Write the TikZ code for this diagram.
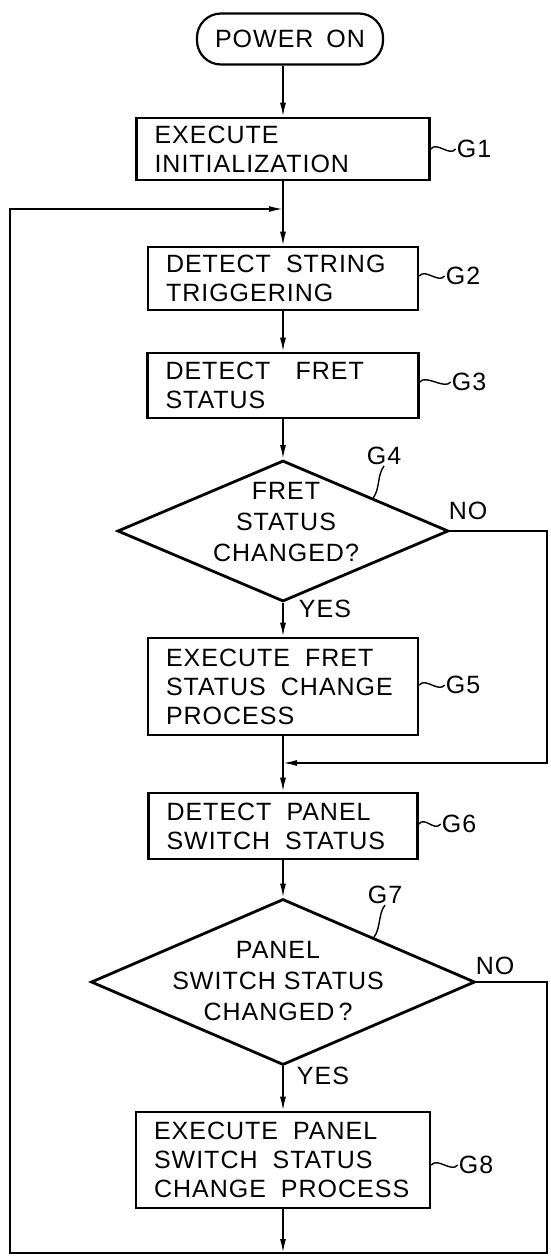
\documentclass[tikz,border=0pt]{standalone}
\usepackage{fontspec}
\setmainfont{Liberation Sans}[LetterSpace=4]
\usetikzlibrary{shapes.geometric,arrows.meta,calc}
\newcommand\bodyfont{\fontsize{25}{29}\selectfont}
\newcommand\diafont{\fontsize{25}{31}\selectfont}
\begin{document}
\begin{tikzpicture}[x=1pt,y=-1pt,
  box/.style={draw, line width=2.6pt, inner xsep=18pt, inner ysep=0pt, align=left, font=\bodyfont,
    execute at begin node={\spaceskip=15pt\relax}},
  term/.style={draw, rounded corners=24pt, line width=2.2pt, minimum width=186pt, minimum height=51pt, font=\bodyfont,
    execute at begin node={\spaceskip=13pt\relax}},
  dia/.style={draw, diamond, line width=2.8pt, inner sep=0pt},
  diatxt/.style={align=center, font=\diafont, inner sep=0pt},
  lab/.style={font=\bodyfont, inner sep=1pt},
  arr/.style={line width=1.7pt, -{Latex[length=14pt,width=6pt]}},
  lead/.style={line width=1.4pt}]
\useasboundingbox (0,0) rectangle (550,1256);

% nodes
\node[term] (pon) at (290,39) {POWER ON};
\node[box, minimum width=293pt, minimum height=62pt, text width=257pt] (g1) at (283,149) {EXECUTE\\INITIALIZATION};
\node[box, minimum width=270pt, minimum height=63pt, text width=234pt] (g2) at (283,278.5) {DETECT STRING\\TRIGGERING};
\node[box, minimum width=271pt, minimum height=65pt, text width=235pt] (g3) at (283,385.5) {DETECT\hspace{10pt} FRET\\STATUS};
\node[dia, minimum width=331pt, minimum height=141pt] (g4) at (283,531) {};
\node[diatxt] (g4t) at (286,522) {FRET\\STATUS\\CHANGED?};
\node[box, minimum width=270pt, minimum height=97pt, text width=234pt] (g5) at (283,686.5) {EXECUTE FRET\\STATUS CHANGE\\PROCESS};
\node[box, minimum width=269pt, minimum height=66pt, text width=233pt] (g6) at (283,826) {DETECT PANEL\\SWITCH STATUS};
\node[dia, minimum width=384pt, minimum height=166pt] (g7) at (283,982) {};
\node[diatxt] (g7t) at (278,981) {PANEL\\SWITCH STATUS\\CHANGED\kern4pt?};
\node[box, minimum width=294pt, minimum height=96pt, text width=258pt] (g8) at (283,1160) {EXECUTE PANEL\\SWITCH STATUS\\CHANGE PROCESS};

% reference labels
\node[lab] (l1) at (474,149) {G1};
\node[lab] (l2) at (463,276) {G2};
\node[lab] (l3) at (469,382) {G3};
\node[lab] (l4) at (384,456) {G4};
\node[lab] (l5) at (463,685) {G5};
\node[lab] (l6) at (459,824) {G6};
\node[lab] (l7) at (385,895) {G7};
\node[lab] (l8) at (476,1165) {G8};

% branch labels
\node[lab] (y4) at (325,609) {YES};
\node[lab] (n4) at (468,511) {NO};
\node[lab] (y7) at (323,1076) {YES};
\node[lab] (n7) at (495,966) {NO};

% junctions
\coordinate (j1) at (283,209);
\coordinate (j2) at (283,763);
\coordinate (j3) at (283,1253);
\coordinate (r1) at (547,763);
\coordinate (r2) at (547,1253);
\coordinate (l0) at (10,1253);

% connectors
\draw[arr] (pon.south -| g1.north) -- (g1.north);
\draw[arr] (g1) -- (g2);
\draw[arr] (g2) -- (g3);
\draw[arr] (g3) -- (g4);
\draw[arr] (g4) -- (g5);
\draw[arr] (g5) -- (g6);
\draw[arr] (g4.east) -| (r1) -- (j2);
\draw[arr] (g6) -- (g7);
\draw[arr] (g7) -- (g8);
\draw[arr] (g8) -- (j3);
\draw[arr] (g7.east) -| (r2) -- (l0) |- (j1);

% leaders
\draw[lead] (g1.east |- l1.west) .. controls +(6,-8) and +(-6,8) .. (l1.west);
\draw[lead] (g2.east |- l2.west) .. controls +(6,-8) and +(-6,8) .. (l2.west);
\draw[lead] (g3.east |- l3.west) .. controls +(6,-8) and +(-6,8) .. (l3.west);
\draw[lead] (g5.east |- l5.west) .. controls +(6,-8) and +(-6,8) .. (l5.west);
\draw[lead] (g6.east |- l6.west) .. controls +(6,-8) and +(-6,8) .. (l6.west);
\draw[lead] (g8.east |- l8.west) .. controls +(6,-8) and +(-6,8) .. (l8.west);
\draw[lead] (l4.south) .. controls +(-7,9) and +(7,-9) .. ($(g4.north)!0.54!(g4.east)$);
\draw[lead] (l7.south) .. controls +(-7,9) and +(7,-9) .. ($(g7.north)!0.47!(g7.east)$);
\end{tikzpicture}
\end{document}
